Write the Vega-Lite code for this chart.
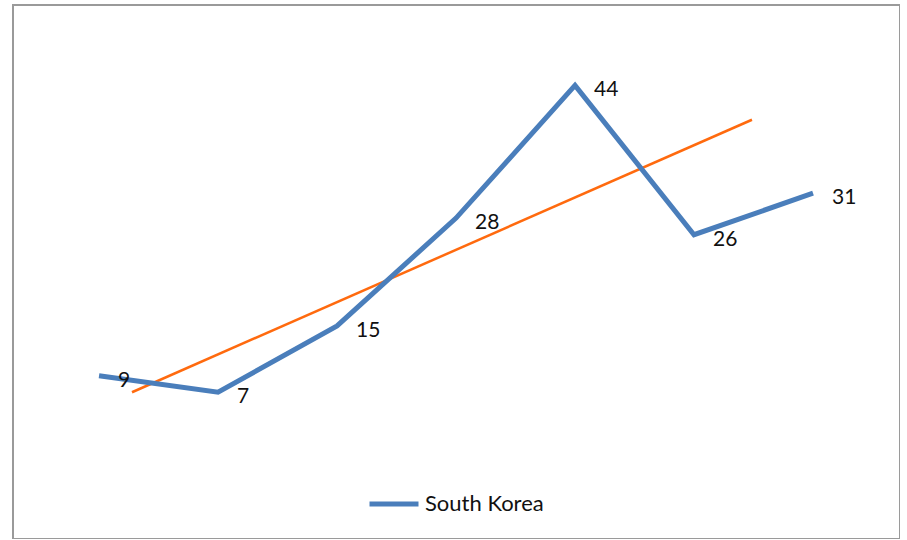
{
  "$schema": "https://vega.github.io/schema/vega-lite/v6.json",
  "width": 887,
  "height": 534,
  "padding": {"left": 13, "top": 5, "right": 0, "bottom": 0},
  "background": "white",
  "config": {
    "view": {"stroke": "#9a9a9a", "strokeWidth": 2},
    "font": "Lato"
  },
  "datasets": {
    "series": [
      {"idx": 1, "value": 9, "country": "South Korea"},
      {"idx": 2, "value": 7, "country": "South Korea"},
      {"idx": 3, "value": 15, "country": "South Korea"},
      {"idx": 4, "value": 28, "country": "South Korea"},
      {"idx": 5, "value": 44, "country": "South Korea"},
      {"idx": 6, "value": 26, "country": "South Korea"},
      {"idx": 7, "value": 31, "country": "South Korea"}
    ],
    "trend": [
      {"idx": 1.277, "value": 7.0},
      {"idx": 6.487, "value": 39.86}
    ]
  },
  "layer": [
    {
      "data": {"name": "trend"},
      "mark": {"type": "line", "color": "#ff6a0e", "strokeWidth": 2.5},
      "encoding": {
        "x": {"field": "idx", "type": "quantitative", "scale": {"domain": [0.277, 7.731], "nice": false, "zero": false}, "axis": null},
        "y": {"field": "value", "type": "quantitative", "scale": {"domain": [-10.7, 53.7], "nice": false, "zero": false}, "axis": null}
      }
    },
    {
      "data": {"name": "series"},
      "mark": {"type": "line", "strokeWidth": 5},
      "encoding": {
        "x": {"field": "idx", "type": "quantitative", "scale": {"domain": [0.277, 7.731], "nice": false, "zero": false}, "axis": null},
        "y": {"field": "value", "type": "quantitative", "scale": {"domain": [-10.7, 53.7], "nice": false, "zero": false}, "axis": null},
        "color": {
          "field": "country",
          "type": "nominal",
          "scale": {"range": ["#4a7ebb"]},
          "legend": {
            "orient": "none",
            "legendX": 354,
            "legendY": 472,
            "title": null,
            "symbolType": "stroke",
            "symbolSize": 2400,
            "symbolStrokeWidth": 5,
            "labelFontSize": 22,
            "labelColor": "#111111",
            "labelOffset": 4,
            "labelFont": "Lato"
          }
        }
      }
    },
    {
      "data": {"name": "series"},
      "mark": {"type": "text", "align": "left", "baseline": "middle", "dx": 19, "dy": 5, "fontSize": 21, "color": "#111111"},
      "encoding": {
        "x": {"field": "idx", "type": "quantitative", "scale": {"domain": [0.277, 7.731], "nice": false, "zero": false}, "axis": null},
        "y": {"field": "value", "type": "quantitative", "scale": {"domain": [-10.7, 53.7], "nice": false, "zero": false}, "axis": null},
        "text": {"field": "value", "type": "quantitative"}
      }
    }
  ]
}
